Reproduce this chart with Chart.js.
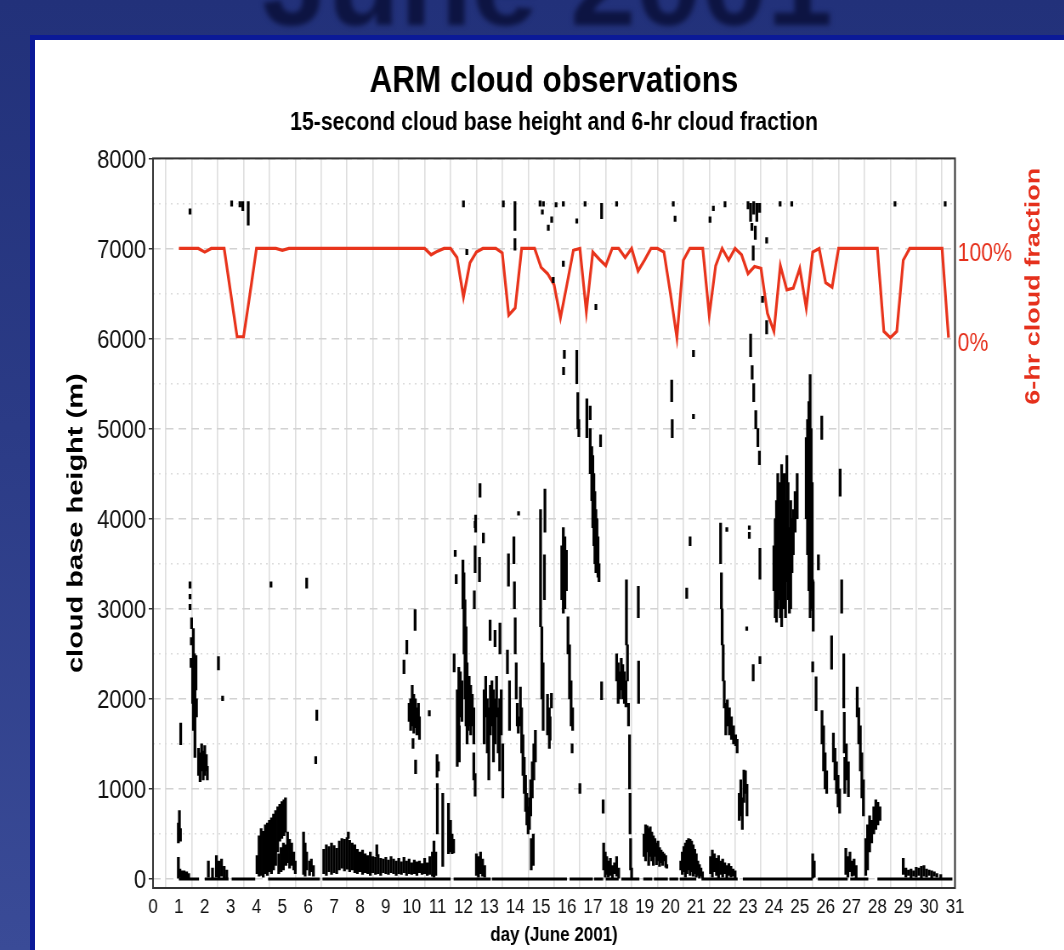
<!DOCTYPE html>
<html>
<head>
<meta charset="utf-8">
<title>ARM cloud observations</title>
<script src="https://cdn.jsdelivr.net/npm/chart.js@4.4.1/dist/chart.umd.min.js"></script>
<style>
  html, body { margin: 0; padding: 0; }
  body {
    width: 1064px; height: 950px; overflow: hidden; position: relative;
    background: linear-gradient(180deg, #22317a 0%, #2b3b86 45%, #3a4b97 100%);
  }
  #banner {
    position: absolute; left: 262px; top: -75px;
    font: bold 118px/118px 'Liberation Sans', Arial, sans-serif;
    color: #0d1442; filter: blur(2.5px); white-space: nowrap;
  }
  #panel {
    position: absolute; left: 30px; top: 35px; width: 1060px; height: 940px;
    background: #fff; box-sizing: border-box;
    border-left: 5px solid #0b1a98; border-top: 5px solid #0b1a98;
  }
  /* the figure is squeezed horizontally, as it sits on the slide */
  #wrap {
    position: absolute; left: 0; top: 0; width: 1252px; height: 950px;
    transform: scaleX(0.85); transform-origin: 0 0;
  }
</style>
</head>
<body>
<div id="banner">June 2001</div>
<div id="panel"></div>
<div id="wrap"><canvas id="chart"></canvas></div>
<script>
"use strict";

const FONT = "'Liberation Sans', Arial, Helvetica, sans-serif";

// axis ticks
const dayTicks = [0, 1, 2, 3, 4, 5, 6, 7, 8, 9, 10, 11, 12, 13, 14, 15, 16, 17, 18, 19, 20,
                  21, 22, 23, 24, 25, 26, 27, 28, 29, 30, 31];
const heightTicks = [0, 1000, 2000, 3000, 4000, 5000, 6000, 7000, 8000];
const halfTicks = [500, 1500, 2500, 3500, 4500, 5500, 6500, 7500];
const fractionTicks = [0, 1];

// 6-hourly cloud fraction, one row per day
const fractionStart = 1;
const fractionStep = 0.25;
const cloudFraction = [
  1, 1, 1, 1,
  0.96, 1, 1, 1,
  0.51, 0.02, 0.02, 0.5,
  1, 1, 1, 1,
  0.98, 1, 1, 1,
  1, 1, 1, 1,
  1, 1, 1, 1,
  1, 1, 1, 1,
  1, 1, 1, 1,
  1, 1, 1, 0.93,
  0.97, 1, 1, 0.9,
  0.46, 0.84, 0.96, 1,
  1, 1, 0.95, 0.26,
  0.34, 1, 1, 1,
  0.79, 0.72, 0.6, 0.23,
  0.6, 0.98, 1, 0.3,
  0.96, 0.88, 0.81, 1,
  1, 0.9, 1, 0.75,
  0.87, 1, 1, 0.96,
  0.5, 0.01, 0.87, 1,
  1, 1, 0.26, 0.81,
  1, 0.87, 1, 0.93,
  0.72, 0.8, 0.78, 0.28,
  0.08, 0.81, 0.54, 0.56,
  0.78, 0.34, 0.96, 1,
  0.62, 0.57, 1, 1,
  1, 1, 1, 1,
  1, 0.08, 0.01, 0.08,
  0.87, 1, 1, 1,
  1, 1, 1, 0.01
];

// periods where the ceilometer reports no cloud base (drawn on the zero line)
const clearSpans = [
  [1.0, 1.78], [2.0, 2.92], [3.04, 3.95], [4.45, 6.45], [6.55, 11.5],
  [11.62, 13.05], [13.1, 16.0], [16.1, 17.0], [17.05, 17.4], [17.5, 18.0],
  [18.1, 18.8], [18.95, 19.3], [19.36, 19.9], [19.96, 20.3], [20.36, 21.0],
  [21.2, 22.6], [22.8, 25.5], [25.7, 26.85], [26.95, 27.65], [28.0, 30.9]
];

// 15-second cloud base returns: [day, lowest m, highest m]
const cloudBase = [
  // days 1-3
  [0.98, 400, 620], [1.02, 480, 760], [1.06, 420, 560], [1.07, 1490, 1730],
  [0.98, 0, 240], [1.04, 20, 110], [1.1, 0, 90], [1.2, 0, 90], [1.3, 0, 80], [1.38, 0, 60],
  [1.43, 2990, 3050], [1.43, 3110, 3160], [1.43, 3230, 3300],
  [1.47, 2350, 2450], [1.48, 2600, 2680], [1.49, 2780, 2900],
  [1.53, 1950, 2350], [1.56, 1650, 2780], [1.6, 1900, 2500], [1.62, 1350, 2100], [1.66, 2100, 2480], [1.68, 1800, 2000],
  [1.76, 1150, 1450], [1.82, 1080, 1400], [1.88, 1200, 1500], [1.94, 1100, 1420], [2.0, 1150, 1480], [2.06, 1200, 1380], [2.1, 1100, 1250],
  [2.53, 2320, 2470], [2.69, 1980, 2030],
  [2.14, 20, 200], [2.3, 0, 120], [2.45, 20, 260], [2.55, 0, 200], [2.65, 30, 220], [2.75, 0, 140], [2.85, 0, 100],
  // days 4-6
  [4.56, 3240, 3300], [5.94, 3230, 3340], [6.33, 1760, 1875], [6.29, 1280, 1360],
  [4.02, 60, 260], [4.1, 30, 480], [4.18, 40, 560], [4.26, 20, 530], [4.34, 60, 600], [4.42, 40, 620],
  [4.5, 80, 650], [4.58, 60, 680], [4.66, 100, 720], [4.74, 150, 760], [4.82, 300, 800], [4.9, 420, 830],
  [4.98, 450, 860], [5.06, 480, 880], [5.12, 520, 900],
  [4.86, 60, 280], [4.95, 80, 350], [5.04, 100, 400], [5.14, 150, 380], [5.2, 180, 520], [5.28, 120, 440],
  [5.36, 150, 400], [5.44, 100, 300], [5.5, 60, 200],
  [5.82, 50, 520], [5.88, 30, 400], [5.94, 100, 300], [6.05, 40, 200], [6.12, 80, 220], [6.2, 30, 150],
  // days 6.5-11 boundary-layer cloud
  [6.6, 60, 330], [6.7, 40, 380], [6.8, 80, 360], [6.9, 50, 400], [7.0, 70, 370], [7.1, 60, 340],
  [7.2, 100, 420], [7.3, 120, 450], [7.4, 90, 440], [7.5, 110, 460], [7.55, 450, 520], [7.6, 80, 430],
  [7.7, 100, 400], [7.8, 70, 380], [7.9, 60, 330], [8.0, 80, 300], [8.1, 50, 320], [8.2, 70, 280],
  [8.3, 60, 260], [8.4, 40, 300], [8.5, 70, 250], [8.6, 50, 240], [8.65, 250, 380], [8.7, 60, 270],
  [8.8, 40, 230], [8.9, 70, 220], [9.0, 60, 240], [9.1, 50, 210], [9.2, 70, 250], [9.3, 60, 220],
  [9.4, 40, 200], [9.5, 60, 230], [9.6, 50, 190], [9.7, 70, 240], [9.8, 40, 200], [9.9, 60, 220],
  [10.0, 50, 180], [10.1, 60, 210], [10.2, 40, 190], [10.3, 70, 200], [10.4, 50, 170], [10.5, 60, 230],
  [10.6, 40, 180], [10.7, 50, 250], [10.8, 30, 300], [10.86, 20, 420], [10.93, 40, 300],
  // days 10-11
  [9.7, 2280, 2430], [9.81, 2500, 2650], [10.13, 2760, 2990],
  [9.9, 1750, 1950], [9.96, 1650, 2000], [10.02, 1700, 2150], [10.08, 1620, 2050], [10.14, 1680, 2000],
  [10.2, 1600, 1900], [10.26, 1700, 1950], [10.3, 1550, 1800], [10.05, 1450, 1560], [10.15, 1170, 1320],
  [10.68, 1810, 1870], [10.98, 1130, 1380], [11.03, 1200, 1300],
  [10.99, 500, 1060], [11.2, 140, 950], [11.42, 280, 840], [11.5, 300, 650], [11.56, 280, 500], [11.62, 290, 440],
  // days 11.6-14
  [11.64, 2300, 2500], [11.68, 3580, 3650], [11.72, 3280, 3380],
  [11.98, 3000, 3540], [12.02, 2500, 3400], [12.06, 2000, 3100], [12.1, 1700, 2800], [12.14, 1500, 2400], [12.18, 1650, 2200],
  [11.76, 1500, 2100], [11.82, 1700, 2350], [11.88, 1800, 2300], [11.94, 1750, 2200], [12.22, 1700, 2250],
  [12.28, 1600, 2150], [12.34, 1700, 2050], [12.4, 1500, 1900], [11.76, 1250, 1500], [11.84, 1300, 1700],
  [12.4, 1100, 1400], [12.45, 920, 1170],
  [12.42, 3000, 3200], [12.45, 3400, 3700], [12.47, 3850, 4040], [12.45, 3900, 3970], [12.64, 4240, 4390],
  [12.62, 3300, 3570], [12.77, 3730, 3840],
  [12.5, 40, 280], [12.58, 20, 250], [12.66, 60, 300], [12.74, 30, 220], [12.82, 20, 150],
  [12.8, 1500, 2100], [12.86, 1800, 2250], [12.92, 1400, 2000], [12.98, 1100, 1900], [13.04, 1600, 2150],
  [13.1, 1700, 2200], [13.16, 1300, 2100], [13.22, 1500, 2000], [13.28, 1800, 2250], [13.34, 1400, 1900],
  [13.4, 1200, 2000], [13.46, 1600, 2100], [13.52, 900, 1500],
  [13.03, 2650, 2875], [13.22, 2580, 2760], [13.41, 2500, 2840],
  [13.7, 2280, 2540], [13.74, 3250, 3610], [13.78, 1650, 2200],
  [13.95, 3500, 3800], [13.97, 3000, 3300], [14.0, 2500, 2900], [14.04, 2000, 2400], [14.08, 1700, 1950], [14.12, 1620, 1800],
  [14.13, 4040, 4080],
  // days 14-16
  [14.2, 1700, 2130], [14.25, 1400, 1900], [14.3, 1150, 1600], [14.35, 950, 1350], [14.4, 750, 1150],
  [14.45, 600, 950], [14.5, 500, 800], [14.55, 550, 900], [14.6, 700, 1100], [14.66, 900, 1300],
  [14.72, 1100, 1500], [14.78, 1300, 1650], [14.62, 100, 450], [14.7, 150, 500],
  [14.98, 2800, 4100], [15.03, 2000, 2800], [15.08, 1650, 2400], [15.13, 3100, 3600], [15.15, 3850, 4330],
  [15.25, 1600, 2050], [15.32, 1450, 1900], [15.35, 1540, 1800], [15.4, 1900, 2060],
  [15.8, 3100, 3700], [15.86, 2950, 3900], [15.92, 3000, 3800], [15.98, 3200, 3650],
  [16.04, 2500, 2910], [16.1, 2000, 2600], [16.16, 1700, 2200], [16.22, 1650, 1900], [16.2, 1400, 1500],
  [15.87, 5600, 5680], [15.9, 5780, 5870],
  // days 16.3-19
  [16.38, 5500, 5870], [16.42, 5000, 5400], [16.46, 4910, 5100], [16.77, 4900, 5330], [16.9, 5100, 5250],
  [16.9, 4500, 5000], [16.96, 4200, 4800], [17.0, 3900, 4700], [17.04, 3700, 4500], [17.08, 3500, 4300],
  [17.12, 3400, 4100], [17.16, 3600, 4000], [17.2, 3350, 3800], [17.24, 3300, 3500], [17.3, 4800, 4930],
  [16.5, 950, 1060], [17.34, 1990, 2190], [17.4, 730, 880],
  [17.42, 100, 400], [17.48, 20, 300], [17.54, 50, 250], [17.6, 20, 200], [17.68, 40, 230], [17.76, 0, 150],
  [17.84, 60, 180], [17.92, 30, 250], [18.0, 0, 120],
  [17.92, 2200, 2500], [17.98, 1950, 2400], [18.04, 2000, 2300], [18.1, 2100, 2450], [18.16, 2000, 2380],
  [18.22, 1950, 2300], [18.28, 1910, 2200],
  [18.3, 2600, 3320], [18.34, 2200, 2600], [18.38, 1700, 1950], [18.42, 1000, 1600], [18.44, 500, 950],
  [18.46, 100, 450], [18.5, 0, 120],
  [18.76, 2900, 3250], [18.77, 1950, 2420],
  [18.98, 250, 500], [19.04, 200, 600], [19.1, 300, 590], [19.16, 150, 560], [19.22, 250, 580], [19.28, 200, 520],
  [19.34, 150, 480], [19.4, 250, 450], [19.46, 160, 400], [19.52, 200, 420], [19.58, 140, 350], [19.64, 180, 320],
  [19.7, 150, 300], [19.76, 200, 280], [19.82, 130, 260], [19.86, 120, 160],
  // days 20-23
  [20.05, 5300, 5540], [20.07, 4900, 5100], [20.89, 5800, 5870], [20.89, 5110, 5160],
  [20.63, 3115, 3230], [20.76, 3700, 3800],
  [20.4, 100, 200], [20.46, 50, 300], [20.52, 80, 360], [20.58, 20, 400], [20.64, 60, 430], [20.7, 100, 450],
  [20.76, 40, 440], [20.82, 80, 420], [20.88, 30, 380], [20.94, 60, 330], [21.0, 20, 280], [21.06, 40, 200],
  [21.12, 10, 160], [21.18, 30, 120], [21.24, 0, 80],
  [21.55, 60, 250], [21.62, 20, 320], [21.7, 80, 280], [21.78, 40, 230], [21.86, 10, 260], [21.94, 50, 200],
  [22.02, 20, 220], [22.1, 60, 180], [22.18, 10, 150], [22.26, 40, 170], [22.34, 20, 140], [22.42, 30, 110], [22.5, 10, 90],
  [21.94, 3500, 3950], [21.97, 3000, 3400], [22.0, 2600, 3000], [22.04, 2200, 2600], [22.08, 1900, 2200], [22.14, 1600, 1950],
  [22.18, 3860, 3900],
  [22.2, 1700, 1990], [22.28, 1600, 1900], [22.36, 1550, 1800], [22.44, 1500, 1700], [22.52, 1480, 1600], [22.58, 1400, 1550],
  [22.66, 650, 950], [22.72, 700, 1100], [22.78, 550, 900], [22.84, 850, 1210], [22.9, 950, 1200], [22.96, 700, 1050],
  [22.95, 2760, 2800], [23.05, 3780, 3850], [23.05, 3880, 3920], [23.2, 2200, 2380], [23.46, 3330, 3670], [23.46, 2390, 2470],
  [23.1, 5800, 6050], [23.16, 5550, 5700], [23.22, 5300, 5500], [23.3, 5000, 5200], [23.38, 4800, 5000], [23.44, 4600, 4750],
  // days 24-28
  [24.0, 3200, 3700], [24.05, 2900, 4000], [24.1, 2850, 4200], [24.15, 3000, 4500], [24.2, 3100, 4400],
  [24.25, 2900, 4300], [24.3, 2800, 4600], [24.35, 3200, 4100], [24.4, 3000, 4500], [24.45, 2900, 4200],
  [24.5, 3300, 4700], [24.55, 3100, 4400], [24.6, 2950, 3900], [24.65, 3000, 4200], [24.7, 3400, 4000], [24.75, 3600, 4100],
  [24.82, 3850, 4300], [24.9, 4000, 4500],
  [25.25, 4000, 4900], [25.3, 3600, 5100], [25.35, 3200, 5300], [25.4, 2900, 5600], [25.44, 3000, 5000],
  [25.48, 3300, 4400], [25.52, 2750, 3300], [25.5, 2980, 3320], [25.85, 4880, 5140], [25.72, 3430, 3600],
  [25.5, 2300, 2410], [25.5, 0, 280], [25.56, 20, 200],
  [25.63, 1870, 2245], [25.86, 1500, 1870], [25.92, 1200, 1700], [25.98, 1000, 1400], [26.04, 950, 1200],
  [26.23, 2330, 2700], [26.3, 1300, 1620], [26.36, 1100, 1450], [26.42, 950, 1300], [26.48, 800, 1150], [26.54, 730, 1000],
  [26.56, 4250, 4550], [26.62, 2950, 3320], [26.7, 1900, 2500], [26.72, 1400, 1850], [26.74, 950, 1350],
  [26.8, 1100, 1500], [26.88, 915, 1300],
  [26.78, 50, 340], [26.86, 20, 250], [26.94, 80, 300], [27.02, 30, 200], [27.1, 40, 220], [27.18, 0, 150],
  [27.22, 1800, 2130], [27.28, 1500, 1900], [27.34, 1200, 1700], [27.4, 900, 1400], [27.46, 700, 1100],
  [27.55, 40, 450], [27.62, 100, 600], [27.7, 300, 700], [27.78, 400, 650], [27.86, 500, 800], [27.94, 550, 880],
  [28.02, 600, 850], [28.1, 650, 800],
  // days 29-31
  [29.0, 50, 230], [29.1, 20, 120], [29.2, 40, 100], [29.3, 10, 110], [29.4, 30, 90], [29.5, 20, 130],
  [29.6, 40, 120], [29.7, 10, 140], [29.8, 30, 150], [29.9, 20, 110], [30.0, 40, 100], [30.1, 10, 90],
  [30.2, 30, 80], [30.3, 20, 60], [30.45, 10, 50],
  // high, isolated returns near 7 km
  [1.43, 7380, 7440], [3.04, 7470, 7530], [3.36, 7460, 7520], [3.47, 7420, 7520], [3.68, 7260, 7520],
  [12.0, 7460, 7530], [12.13, 6930, 6990], [13.54, 7460, 7530], [13.99, 7200, 7520], [13.99, 6980, 7110],
  [14.96, 7470, 7530], [15.05, 7380, 7430], [15.09, 7470, 7520], [15.28, 7200, 7260], [15.41, 7290, 7350],
  [15.47, 6620, 6680], [15.58, 7460, 7510], [15.86, 7470, 7520], [15.86, 6800, 6860], [16.38, 7280, 7330],
  [16.7, 7470, 7520], [17.12, 6320, 6380], [17.34, 7330, 7500], [17.92, 7470, 7520],
  [20.11, 7470, 7520], [20.18, 7300, 7360], [21.53, 7290, 7350], [21.66, 7420, 7470], [22.11, 7460, 7520],
  [23.0, 7440, 7520], [23.1, 7300, 7500], [23.15, 7200, 7280], [23.22, 7380, 7520], [23.28, 7100, 7250],
  [23.34, 7300, 7500], [23.45, 7400, 7500], [23.2, 6870, 7030], [23.72, 7060, 7120], [23.56, 6400, 6470],
  [23.72, 6050, 6200], [24.24, 7470, 7520], [24.69, 7470, 7520], [28.68, 7470, 7520], [30.62, 7470, 7520]
];

const clearBand = [];
clearSpans.forEach(([a, b]) => {
  clearBand.push({x: a, y: 0}, {x: b, y: 0}, {x: b, y: null});
});

// dark frame round the plot area
const plotFrame = {
  id: 'plotFrame',
  afterDatasetsDraw(chart) {
    const {ctx, chartArea: a} = chart;
    ctx.save();
    ctx.strokeStyle = '#333';
    ctx.lineWidth = 2;
    ctx.strokeRect(a.left, a.top, a.right - a.left, a.bottom - a.top);
    ctx.restore();
  }
};

// rotated axis titles (both read bottom to top)
const sideTitles = {
  id: 'sideTitles',
  afterDraw(chart) {
    const {ctx, chartArea, scales} = chart;
    const put = (text, x, y, color, size) => {
      ctx.save();
      ctx.translate(x, y);
      ctx.rotate(-Math.PI / 2);
      ctx.scale(1, 0.92);
      ctx.font = 'bold ' + size + 'px ' + FONT;
      ctx.fillStyle = color;
      ctx.textAlign = 'center';
      ctx.textBaseline = 'middle';
      ctx.fillText(text, 0, 0);
      ctx.restore();
    };
    put('cloud base height (m)', scales.y.left + 43, (chartArea.top + chartArea.bottom) / 2, '#000', 29);
    put('6-hr cloud fraction', scales.y2.right - 36, scales.y2.getPixelForValue(0.58), '#e5301c', 27);
  }
};

new Chart(document.getElementById('chart'), {
  type: 'line',
  data: {
    datasets: [
      {
        type: 'bar',
        label: 'cloud base height',
        data: cloudBase.map(([d, lo, hi]) => ({x: d, y: [lo, hi]})),
        backgroundColor: '#000',
        borderWidth: 0,
        barThickness: 2.6,
        minBarLength: 2,
        grouped: false,
        yAxisID: 'y',
        order: 0
      },
      {
        label: '6-hr cloud fraction',
        data: cloudFraction.map((v, i) => ({x: fractionStart + i * fractionStep, y: v})),
        yAxisID: 'y2',
        borderColor: '#e8341c',
        borderWidth: 3.2,
        pointRadius: 0,
        tension: 0,
        order: 1
      },
      {
        label: 'no cloud',
        data: clearBand,
        yAxisID: 'y',
        borderColor: '#000',
        borderWidth: 3,
        borderCapStyle: 'butt',
        pointRadius: 0,
        spanGaps: false,
        order: 2
      }
    ]
  },
  options: {
    responsive: true,
    maintainAspectRatio: false,
    animation: false,
    devicePixelRatio: 1,
    layout: {padding: {left: 47, right: 0, top: 40, bottom: 0}},
    plugins: {
      legend: {display: false},
      tooltip: {enabled: false},
      title: {
        display: true,
        text: 'ARM cloud observations',
        fullSize: false,
        color: '#000',
        font: {family: FONT, size: 37, weight: 'bold', lineHeight: 1.2},
        padding: {top: 20, bottom: 0}
      },
      subtitle: {
        display: true,
        text: '15-second cloud base height and 6-hr cloud fraction',
        fullSize: false,
        color: '#000',
        font: {family: FONT, size: 25, weight: 'bold', lineHeight: 1.2},
        padding: {top: 4, bottom: 20}
      }
    },
    scales: {
      x: {
        type: 'linear',
        min: 0,
        max: 31,
        offset: false,
        afterBuildTicks: axis => { axis.ticks = dayTicks.map(v => ({value: v})); },
        afterFit: s => { s.height = 62; },
        ticks: {
          autoSkip: false, maxRotation: 0, padding: 7, color: '#111',
          font: {family: FONT, size: 20},
          callback: v => String(v)
        },
        grid: {color: '#dedede', lineWidth: 1.6, drawTicks: false},
        border: {display: false},
        title: {
          display: true, text: 'day (June 2001)', color: '#000',
          font: {family: FONT, size: 20, weight: 'bold', lineHeight: 1.2},
          padding: {top: 0, bottom: 3}
        }
      },
      y: {
        type: 'linear',
        position: 'left',
        min: -100,
        max: 8000,
        afterBuildTicks: axis => { axis.ticks = heightTicks.map(v => ({value: v})); },
        afterFit: s => { s.width = 133; },
        ticks: {
          padding: 3, color: '#111', labelOffset: 2,
          font: {family: FONT, size: 26},
          callback: v => String(v)
        },
        grid: {color: '#d2d2d2', lineWidth: 1.5, tickLength: 5, tickColor: '#333'},
        border: {display: false, dash: [9, 6]}
      },
      yMinor: {
        type: 'linear',
        position: 'left',
        min: -100,
        max: 8000,
        afterBuildTicks: axis => { axis.ticks = halfTicks.map(v => ({value: v})); },
        afterFit: s => { s.width = 0; },
        ticks: {display: false},
        grid: {color: '#dcdcdc', lineWidth: 1.5, drawTicks: false},
        border: {display: false, dash: [2, 5]}
      },
      y2: {
        type: 'linear',
        position: 'right',
        min: -6.1,
        max: 2,
        afterBuildTicks: axis => { axis.ticks = fractionTicks.map(v => ({value: v})); },
        afterFit: s => { s.width = 128.5; },
        ticks: {
          padding: 3, color: '#e5301c', labelOffset: 6,
          font: {family: FONT, size: 25},
          callback: v => Math.round(v * 100) + '%'
        },
        grid: {display: false, drawTicks: false},
        border: {display: false}
      }
    }
  },
  plugins: [plotFrame, sideTitles]
});
</script>
</body>
</html>
